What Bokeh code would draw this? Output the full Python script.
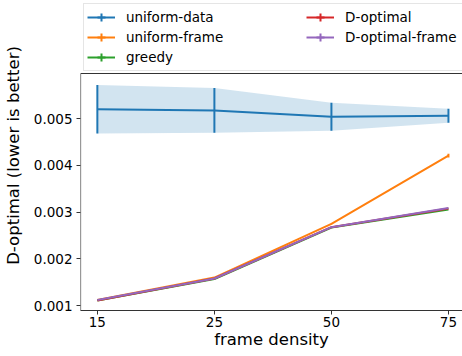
from bokeh.plotting import figure
from bokeh.models import Range1d, FixedTicker, Legend, LegendItem
from bokeh.embed import file_html
from bokeh.resources import INLINE

# ---- data ----
frame_density = ["15", "25", "50", "75"]
uniform_data_mean = [0.005205, 0.00518, 0.005045, 0.005065]
uniform_data_std = [0.00052, 0.00048, 0.00030, 0.00015]
uniform_frame = [0.00112, 0.00160, 0.00275, 0.00421]
uniform_frame_err = [0.0, 0.0, 0.00001, 0.00004]
greedy = [0.00111, 0.00157, 0.00267, 0.00306]
d_optimal = [0.00111, 0.00158, 0.00268, 0.00308]
d_optimal_frame = [0.00112, 0.00158, 0.00268, 0.00309]
y_ticks = [0.001, 0.002, 0.003, 0.004, 0.005]
series_names = ["uniform-data", "uniform-frame", "greedy", "D-optimal", "D-optimal-frame"]
colors = ["#1f77b4", "#ff7f0e", "#2ca02c", "#d62728", "#9467bd"]

# axes box: data area top (spine) and visible ranges
x_lo, x_hi = -0.144, 3.12
y_lo, y_axes_top, y_canvas_top = 0.000895, 0.00597, 0.007533

x = list(range(len(frame_density)))
FONT = "DejaVu Sans"
SPINE = "#333333"

p = figure(width=462, height=356, output_backend="svg", toolbar_location=None,
           x_range=Range1d(x_lo, x_hi), y_range=Range1d(y_lo, y_canvas_top),
           min_border_left=77, min_border_right=0, min_border_top=0, min_border_bottom=46)
p.outline_line_color = None
p.grid.visible = False
p.background_fill_color = "white"

# band + error bars for uniform-data
lo = [m - s for m, s in zip(uniform_data_mean, uniform_data_std)]
hi = [m + s for m, s in zip(uniform_data_mean, uniform_data_std)]
p.varea(x=x, y1=lo, y2=hi, fill_color=colors[0], fill_alpha=0.2)
p.segment(x0=x, y0=lo, x1=x, y1=hi, line_color=colors[0], line_width=2)
p.line(x=x, y=uniform_data_mean, line_color=colors[0], line_width=2)

# uniform-frame
lo2 = [m - s for m, s in zip(uniform_frame, uniform_frame_err)]
hi2 = [m + s for m, s in zip(uniform_frame, uniform_frame_err)]
p.segment(x0=x, y0=lo2, x1=x, y1=hi2, line_color=colors[1], line_width=2)
p.line(x=x, y=uniform_frame, line_color=colors[1], line_width=2)

p.line(x=x, y=greedy, line_color=colors[2], line_width=2)
p.line(x=x, y=d_optimal, line_color=colors[3], line_width=2)
p.line(x=x, y=d_optimal_frame, line_color=colors[4], line_width=2)

# left and top spines of the axes box
p.segment(x0=[x_lo, x_lo], y0=[y_lo, y_axes_top], x1=[x_lo, x_hi + 1], y1=[y_axes_top, y_axes_top],
          line_color=SPINE, line_width=1.2)

# legend (placeholder renderers for "+" glyphs)
nan = float("nan")
items = []
for name, c in zip(series_names, colors):
    rl = p.line(x=[nan], y=[nan], line_color=c, line_width=2)
    rm = p.scatter(x=[nan], y=[nan], marker="cross", size=12, line_color=c, line_width=2)
    items.append(LegendItem(label=name, renderers=[rl, rm]))

legend = Legend(items=items, location="top_left", orientation="vertical", nrows=3,
                glyph_width=28, glyph_height=20, spacing=0, label_standoff=11,
                label_width=180, padding=3, margin=3,
                border_line_color="#cccccc", border_line_width=1,
                background_fill_color="white", background_fill_alpha=0.8,
                label_text_font=FONT, label_text_font_size="13.5px",
                label_text_color="black")
p.add_layout(legend, "center")

# axes
p.xaxis.ticker = FixedTicker(ticks=x)
p.xaxis.major_label_overrides = {i: lab for i, lab in zip(x, frame_density)}
p.yaxis.ticker = FixedTicker(ticks=y_ticks)
p.yaxis.major_label_overrides = {t: f"{t:.3f}" for t in y_ticks}
for ax in (p.xaxis, p.yaxis):
    ax.minor_tick_line_color = None
    ax.major_tick_in = 0
    ax.major_tick_out = 4
    ax.axis_line_color = SPINE
    ax.major_tick_line_color = SPINE
    ax.major_label_text_font = FONT
    ax.major_label_text_font_size = "13.5px"
    ax.major_label_text_color = "black"
    ax.axis_label_text_font = FONT
    ax.axis_label_text_font_size = "16.5px"
    ax.axis_label_text_font_style = "normal"
    ax.axis_label_text_color = "black"
p.yaxis.axis_line_color = None
p.xaxis.axis_label = "frame density"
p.yaxis.axis_label = "D-optimal (lower is better)"
p.xaxis.axis_label_standoff = 0
p.yaxis.axis_label_standoff = 8
p.xaxis.major_label_standoff = 2
p.yaxis.major_label_standoff = 4

open("out.html", "w").write(file_html(p, INLINE))
